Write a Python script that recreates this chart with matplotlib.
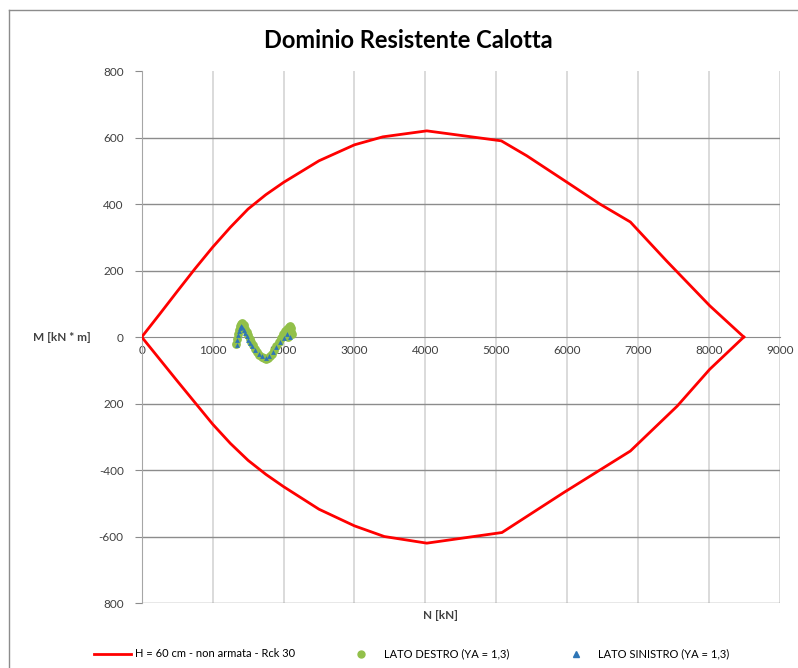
import matplotlib.pyplot as plt
from matplotlib.lines import Line2D

plt.rcParams['font.family'] = ['Lato', 'DejaVu Sans']

# interaction domain N-M (upper and lower branches)
dom_n_up = [0, 250, 500, 750, 1000, 1250, 1500, 1750, 2000, 2500, 3000, 3400, 4020,
            5070, 5430, 6000, 6460, 6890, 7400, 8010, 8490]
dom_m_up = [0, 68, 137, 205, 270, 330, 385, 428, 465, 530, 578, 602, 620,
            590, 545, 465, 400, 346, 229, 94, 0]
dom_n_lo = [0, 250, 500, 750, 1000, 1250, 1500, 1750, 2000, 2500, 3000, 3420, 4020,
            5080, 5950, 6890, 7550, 8010, 8490]
dom_m_lo = [0, -66, -132, -197, -262, -320, -371, -413, -450, -518, -568, -600, -620,
            -588, -468, -343, -208, -97, 0]

# stress states, right side
dx_n = [1330, 1345, 1360, 1375, 1390, 1405, 1420, 1440, 1460, 1480, 1500, 1520, 1545, 1570, 1600, 1630,
        1660, 1690, 1720, 1750, 1780, 1810, 1840, 1870, 1900, 1930, 1960, 1990, 2020, 2045, 2070, 2090,
        2110, 2100, 2080, 2060, 2120]
dx_m = [-20, -5, 10, 22, 32, 40, 42, 35, 25, 15, 5, -5, -15, -25, -35, -45,
        -53, -60, -64, -66, -64, -58, -50, -40, -28, -15, -3, 8, 18, 25, 30, 32,
        28, 15, 5, 0, 10]

# stress states, left side
sx_n = [1340, 1350, 1360, 1375, 1390, 1400, 1420, 1440, 1460, 1480, 1500, 1530, 1560, 1600, 1650, 1700,
        1750, 1800, 1850, 1900, 1950, 2000, 2050, 2090]
sx_m = [-25, -10, 5, 18, 28, 32, 30, 22, 12, 2, -8, -18, -28, -38, -50, -58,
        -62, -58, -45, -30, -15, -2, 8, 0]

x_ticks = [0, 1000, 2000, 3000, 4000, 5000, 6000, 7000, 8000, 9000]
y_ticks = [-800, -600, -400, -200, 0, 200, 400, 600, 800]
y_labels = ['800', '-600', '-400', '200', '0', '200', '400', '600', '800']

fig = plt.figure(figsize=(7.98, 6.68), dpi=100)
ax = fig.add_axes([0.1776, 0.0973, 0.7998, 0.7964])

red = '#FF0000'
ax.plot(dom_n_up, dom_m_up, color=red, lw=2, zorder=3)
ax.plot(dom_n_lo, dom_m_lo, color=red, lw=2, zorder=3)
ax.scatter(dx_n, dx_m, s=40, color='#92C04A', marker='o', zorder=4, linewidths=0)
ax.scatter(sx_n, sx_m, s=12, color='#2E75B6', marker='^', zorder=5, linewidths=0)

ax.set_xlim(0, 9000)
ax.set_ylim(-800, 800)

# grid: light vertical lines, darker horizontal ones
for xv in x_ticks[1:]:
    ax.axvline(xv, color='#D4D4D4', lw=1.2, zorder=1)
for yv in y_ticks[:-1]:
    if yv != 0:
        ax.axhline(yv, color='#8C8C8C', lw=1, zorder=1)

ax.spines['top'].set_visible(False)
ax.spines['right'].set_visible(False)
ax.spines['bottom'].set_position(('data', 0))
ax.spines['bottom'].set_color('#8C8C8C')
ax.spines['left'].set_color('#A6A6A6')

ax.set_xticks(x_ticks)
ax.set_xticklabels([str(v) for v in x_ticks], fontsize=8.5, color='#404040')
ax.set_yticks(y_ticks)
ax.set_yticklabels(y_labels, fontsize=8.5, color='#404040')
ax.tick_params(axis='x', length=0, pad=6)
ax.tick_params(axis='y', length=5, color='#8C8C8C', pad=8)

fig.text(0.512, 0.94, 'Dominio Resistente Calotta', ha='center', va='center',
         fontsize=17, fontweight='bold')
fig.text(0.078, 0.495, 'M [kN * m]', ha='center', va='center', fontsize=8.5, fontweight='bold',
         color='#404040')
fig.text(0.552, 0.079, 'N [kN]', ha='center', va='center', fontsize=8.5, fontweight='bold',
         color='#404040')

handles = [Line2D([], [], color=red, lw=2),
           Line2D([], [], color='#92C04A', marker='o', ls='none', markersize=5),
           Line2D([], [], color='#2E75B6', marker='^', ls='none', markersize=5)]
labels = ['H = 60 cm - non armata - Rck 30', 'LATO DESTRO (YA = 1,3)', 'LATO SINISTRO (YA = 1,3)']
fig.legend(handles, labels, loc='center', bbox_to_anchor=(0.516, 0.021), ncol=3, frameon=False,
           fontsize=8, handlelength=3.3, columnspacing=4.3, handletextpad=0.4)

# chart area border
fig.add_artist(Line2D([0.011, 0.011], [0, 0.985], color='#8C8C8C', lw=1, transform=fig.transFigure))
fig.add_artist(Line2D([0.011, 1], [0.985, 0.985], color='#8C8C8C', lw=1, transform=fig.transFigure))

fig.savefig('out.png', dpi=100)
